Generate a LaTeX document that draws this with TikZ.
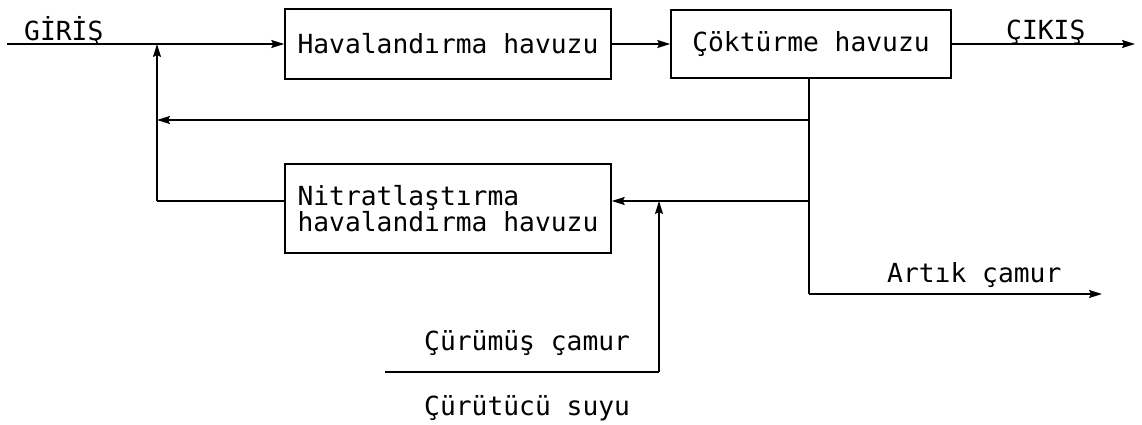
\documentclass[tikz,border=0pt]{standalone}
\usepackage{fontspec}
\setmonofont{DejaVu Sans Mono}
\usetikzlibrary{arrows.meta}
\begin{document}
\begin{tikzpicture}[x=1pt,y=-1pt,
  flow/.style={line width=1.5pt},
  arr/.style={flow,-{Stealth[length=13pt,width=8pt,inset=2pt]}},
  tank/.style={draw,line width=1.5pt,inner sep=0pt,
    font=\ttfamily\fontsize{26.3}{22}\selectfont},
  lbl/.style={inner sep=0pt,anchor=base west,
    font=\ttfamily\fontsize{26.3}{22}\selectfont}]
\useasboundingbox (0,0) rectangle (1142,425);

% tanks
\node[tank,minimum width=326pt,minimum height=70pt] (aer) at (448,44) {Havalandırma havuzu};
\node[tank,minimum width=280pt,minimum height=68pt] (sed) at (811,44) {Çöktürme havuzu};
\node[tank,minimum width=326pt,minimum height=89pt,align=left] (nit) at (448,208.5)
  {Nitratlaştırma\\havalandırma havuzu};

% junction points of the piping
\coordinate (in)  at (7,44);
\coordinate (j1)  at (157,44);
\coordinate (out) at (1135,44);
\coordinate (rc)  at (809,120);
\coordinate (rl)  at (157,120);
\coordinate (nj)  at (809,201);
\coordinate (dj)  at (659,201);
\coordinate (nl)  at (157,201);
\coordinate (wc)  at (809,294);
\coordinate (we)  at (1102,294);
\coordinate (ds)  at (385,372);
\coordinate (dc)  at (659,372);

% main line
\draw[flow] (in) -- (j1);
\draw[arr] (j1) -- (aer.west);
\draw[arr] (aer.east) -- (sed.west);
\draw[arr] (sed.east) -- (out);

% sludge return and waste
\draw[flow] (sed.south -| rc) -- (wc);
\draw[arr] (wc) -- (we);
\draw[arr] (rc) -- (rl);
\draw[arr] (nj) -- (nit.east |- nj);
\draw[flow] (nit.west |- nl) -- (nl);
\draw[arr] (nl) -- (j1);

% digester supernatant
\draw[flow] (ds) -- (dc);
\draw[arr] (dc) -- (dj);

% labels
\node[lbl] (lin)  at (24,41)   {GİRİŞ};
\node[lbl] (lout) at (1006,40) {ÇIKIŞ};
\node[lbl] (lw)   at (887,282) {Artık çamur};
\node[lbl] (ld1)  at (424,350) {Çürümüş çamur};
\node[lbl] (ld2)  at (424,415) {Çürütücü suyu};
\end{tikzpicture}
\end{document}
